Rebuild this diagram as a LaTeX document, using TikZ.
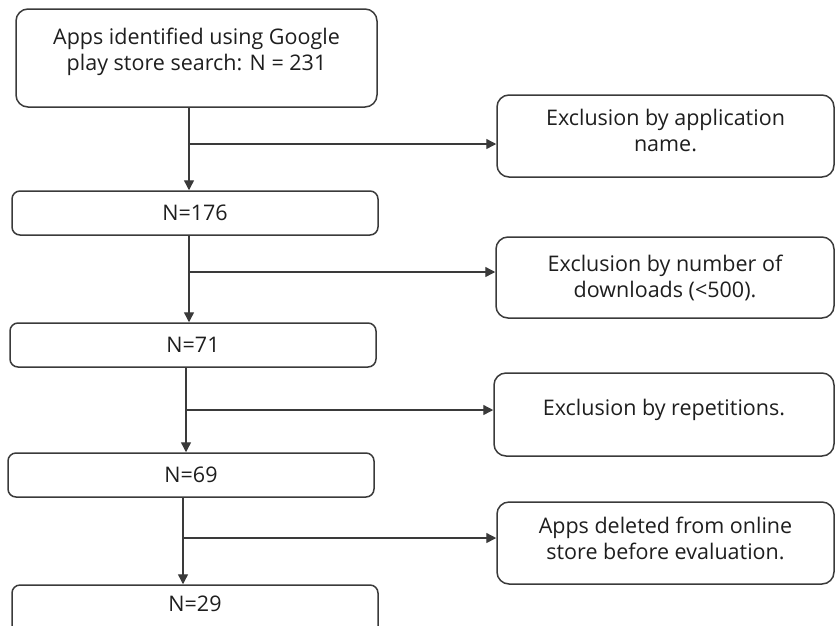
\documentclass[tikz,border=0pt]{standalone}
\usepackage{fontspec}
\setmainfont{Open Sans}
\usetikzlibrary{arrows.meta}
\definecolor{lineclr}{HTML}{3A3A3A}
\definecolor{txtclr}{HTML}{1E1E1E}
\begin{document}
\begin{tikzpicture}[x=1pt,y=-1pt,
  box/.style={draw=lineclr, line width=1.5pt, rounded corners=12pt,
    align=center, text=txtclr, inner sep=0pt,
    font=\fontsize{21.5}{26}\selectfont},
  flowbox/.style={box, rounded corners=8pt},
  arr/.style={draw=lineclr, line width=1.4pt, -{Triangle[length=10pt,width=10pt]}}]
\useasboundingbox (0,0) rectangle (835,625);
\clip (0,0) rectangle (835,625);

% main column
\node[box, minimum width=361pt, minimum height=98pt, text depth=18pt] (top) at (196.5,58)
  {Apps identified using Google\\play store search: N = 231};
\node[flowbox, minimum width=366pt, minimum height=44pt] (n176) at (195,213) {N=176};
\node[flowbox, minimum width=366pt, minimum height=44pt] (n71) at (193,345) {N=71};
\node[flowbox, minimum width=366pt, minimum height=44pt] (n69) at (191,475) {N=69};
\node[flowbox, minimum width=366pt, minimum height=56pt, text depth=18pt] (n29) at (195,613) {N=29};

% exclusion boxes
\node[box, minimum width=337pt, minimum height=82pt, text depth=12pt] (ex1) at (665.5,136)
  {Exclusion by application\\name.};
\node[box, minimum width=338pt, minimum height=81pt] (ex2) at (665,277.5)
  {Exclusion by number of\\downloads (<500).};
\node[box, minimum width=340pt, minimum height=83pt, text depth=14pt] (ex3) at (664,414.5)
  {Exclusion by repetitions.};
\node[box, minimum width=337pt, minimum height=82pt, text depth=10pt] (ex4) at (665.5,543)
  {Apps deleted from online\\store before evaluation.};

% junction points on the vertical connectors
\coordinate (j1) at (189,144);
\coordinate (j2) at (189,272);
\coordinate (j3) at (186,410);
\coordinate (j4) at (183,538);

\draw[arr] (j1 |- top.south) -- (j1 |- n176.north);
\draw[arr] (j1) -- (ex1.west |- j1);
\draw[arr] (j2 |- n176.south) -- (j2 |- n71.north);
\draw[arr] (j2) -- (ex2.west |- j2);
\draw[arr] (j3 |- n71.south) -- (j3 |- n69.north);
\draw[arr] (j3) -- (ex3.west |- j3);
\draw[arr] (j4 |- n69.south) -- (j4 |- n29.north);
\draw[arr] (j4) -- (ex4.west |- j4);
\end{tikzpicture}
\end{document}
